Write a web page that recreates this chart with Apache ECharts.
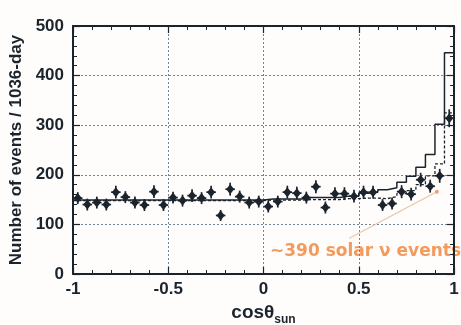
<!DOCTYPE html>
<html><head><meta charset="utf-8">
<script src="https://cdn.jsdelivr.net/npm/echarts@6/dist/echarts.min.js"></script>
<style>html,body{margin:0;padding:0;background:#fffdfb}#c{width:461px;height:325px}</style>
</head><body><div id="c"></div><script>
// ---- data ----
const binCenters = [-0.975,-0.925,-0.875,-0.825,-0.775,-0.725,-0.675,-0.625,-0.575,-0.525,
  -0.475,-0.425,-0.375,-0.325,-0.275,-0.225,-0.175,-0.125,-0.075,-0.025,
  0.025,0.075,0.125,0.175,0.225,0.275,0.325,0.375,0.425,0.475,
  0.525,0.575,0.625,0.675,0.725,0.775,0.825,0.875,0.925,0.975];
const binEdges = [-1,-0.95,-0.9,-0.85,-0.8,-0.75,-0.7,-0.65,-0.6,-0.55,
  -0.5,-0.45,-0.4,-0.35,-0.3,-0.25,-0.2,-0.15,-0.1,-0.05,
  0,0.05,0.1,0.15,0.2,0.25,0.3,0.35,0.4,0.45,
  0.5,0.55,0.6,0.65,0.7,0.75,0.8,0.85,0.9,0.95,1];
const binHalfWidth = 0.025;
const counts = [153,140,144,140,165,155,144,139,166,139,
  154,148,158,153,165,118,171,156,144,146,
  136,146,165,163,154,176,134,162,162,157,
  165,165,139,142,166,161,190,177,198,314];
const countErrors = [12,12,12,12,13,12,12,12,13,12,
  12,12,13,12,13,11,13,12,12,12,
  12,12,13,13,12,13,12,13,13,13,
  13,13,12,12,13,13,14,13,14,18];
const totalFit = [149,149,149,149,149,149,149,149,149,149,
  149,149,149,149,149,149,149,149,149,149,
  151,151,151,151,154,154,154,154,157,157,
  163,165,170,174,185,197,215,241,302,446];
const backgroundFit = [148,148,148,148,148,148,148,148,148,148,
  148,148,148,148,148,148,148,148,148,148,
  149,149,149,149,150,150,150,150,152,152,
  153,153,152,156,162,168,180,198,222,325];
const xTicks = ['-1','-0.5','0','0.5','1'];
const yTicks = ['0','100','200','300','400','500'];
const annotationText = '~390 solar \u03bd events';
const annotationLine = [[0.45, 72], [0.91, 166]];

// ---- chart ----
const FONT = '"Liberation Sans", Arial, Helvetica, sans-serif';
const INK = '#1b232d';
const chart = echarts.init(document.getElementById('c'), null, {renderer: 'canvas'});

function stepData(vals) {
  return binEdges.map((e, i) => [e, vals[Math.min(i, vals.length - 1)]]);
}

const axisCommon = {
  type: 'value',
  axisLine: {show: true, onZero: false, lineStyle: {color: INK, width: 2}},
  axisTick: {show: true, inside: true, length: 7, lineStyle: {color: INK, width: 1.2}},
  minorTick: {show: true, splitNumber: 5, length: 4, lineStyle: {color: INK, width: 1}},
  minorSplitLine: {show: false}
};

const option = {
  backgroundColor: '#fffdfb',
  animation: false,
  grid: {left: 73, right: 7, top: 26, bottom: 51, containLabel: false, outerBoundsMode: 'none'},
  xAxis: [
    Object.assign({}, axisCommon, {
      min: -1, max: 1, interval: 0.5, position: 'bottom',
      axisLabel: {color: INK, fontSize: 17, fontWeight: 'bold', fontFamily: FONT, margin: 7,
        formatter: (v, i) => xTicks[i]},
      splitLine: {show: true, lineStyle: {color: '#6f8496', type: [2, 2], width: 1}},
      name: '{a|cos\u03b8}{b|sun}', nameLocation: 'middle', nameGap: 26,
      nameTextStyle: {rich: {
        a: {fontSize: 19, fontWeight: 'bold', fontFamily: FONT, color: INK},
        b: {fontSize: 12, fontWeight: 'bold', fontFamily: FONT, color: INK, padding: [14, 0, 0, 0]}
      }}
    }),
    Object.assign({}, axisCommon, {
      min: -1, max: 1, interval: 0.5, position: 'top',
      axisLabel: {show: false}, splitLine: {show: false}
    })
  ],
  yAxis: [
    Object.assign({}, axisCommon, {
      min: 0, max: 500, interval: 100, position: 'left',
      axisLabel: {color: INK, fontSize: 17, fontWeight: 'bold', fontFamily: FONT, margin: 9,
        formatter: (v, i) => yTicks[i]},
      splitLine: {show: true, lineStyle: {color: '#6f8496', type: [2, 2], width: 1}},
      name: 'Number of events / 1036-day', nameLocation: 'middle', nameGap: 24,
      nameTextStyle: {fontSize: 17, fontWeight: 'bold', fontFamily: FONT, color: INK}
    }),
    Object.assign({}, axisCommon, {
      min: 0, max: 500, interval: 100, position: 'right', z: 10,
      axisLabel: {show: false}, splitLine: {show: false}
    })
  ],
  graphic: [{
    type: 'text', x: 270, y: 252, z: 0,
    style: {text: annotationText, fill: '#f39a5c', font: 'bold 17px "DejaVu Sans", sans-serif',
      verticalAlign: 'middle'}
  }],
  series: [
    {
      type: 'line', name: 'background', data: stepData(backgroundFit), step: 'end',
      showSymbol: false, symbol: 'none',
      lineStyle: {color: INK, width: 1.3, type: [3, 2]}, z: 3
    },
    {
      type: 'line', name: 'total', data: stepData(totalFit), step: 'end',
      showSymbol: false, symbol: 'none',
      lineStyle: {color: INK, width: 1.5}, z: 4
    },
    {
      type: 'line', name: 'annotation',
      data: [{value: annotationLine[0], symbol: 'none'},
             {value: annotationLine[1], symbol: 'circle', symbolSize: 4, itemStyle: {color: '#f3a06a'}}],
      lineStyle: {color: '#e9c4a8', width: 1.2}, z: 2
    },
    {
      type: 'custom', name: 'data',
      data: binCenters.map((x, i) => [x, counts[i], countErrors[i]]),
      encode: {x: 0, y: 1},
      z: 5,
      renderItem: function (params, api) {
        const x = api.value(0), y = api.value(1), e = api.value(2);
        const c = api.coord([x, y]);
        const t = api.coord([x, y + e]);
        const b = api.coord([x, y - e]);
        const l = api.coord([x - binHalfWidth, y]);
        const r = api.coord([x + binHalfWidth, y]);
        return {type: 'group', children: [
          {type: 'line', shape: {x1: t[0], y1: t[1], x2: b[0], y2: b[1]}, style: {stroke: INK, lineWidth: 1.7}},
          {type: 'line', shape: {x1: l[0], y1: l[1], x2: r[0], y2: r[1]}, style: {stroke: INK, lineWidth: 1.7}},
          {type: 'polygon', shape: {points: [[c[0], c[1] - 5], [c[0] + 4, c[1]], [c[0], c[1] + 5], [c[0] - 4, c[1]]]},
            style: {fill: INK}}
        ]};
      }
    }
  ]
};
chart.setOption(option);
</script></body></html>
